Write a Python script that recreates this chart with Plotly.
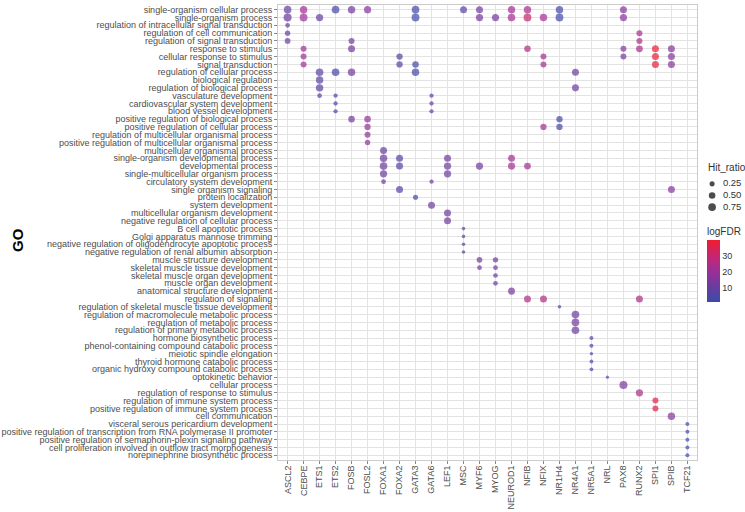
import plotly.graph_objects as go

tf_names = ["ASCL2", "CEBPE", "ETS1", "ETS2", "FOSB", "FOSL2", "FOXA1", "FOXA2",
            "GATA3", "GATA6", "LEF1", "MSC", "MYF6", "MYOG", "NEUROD1", "NFIB",
            "NFIX", "NR1H4", "NR4A1", "NR5A1", "NRL", "PAX8", "RUNX2", "SPI1",
            "SPIB", "TCF21"]

go_terms = [
    "single-organism cellular process",
    "single-organism process",
    "regulation of intracellular signal transduction",
    "regulation of cell communication",
    "regulation of signal transduction",
    "response to stimulus",
    "cellular response to stimulus",
    "signal transduction",
    "regulation of cellular process",
    "biological regulation",
    "regulation of biological process",
    "vasculature development",
    "cardiovascular system development",
    "blood vessel development",
    "positive regulation of biological process",
    "positive regulation of cellular process",
    "regulation of multicellular organismal process",
    "positive regulation of multicellular organismal process",
    "multicellular organismal process",
    "single-organism developmental process",
    "developmental process",
    "single-multicellular organism process",
    "circulatory system development",
    "single organism signaling",
    "protein localization",
    "system development",
    "multicellular organism development",
    "negative regulation of cellular process",
    "B cell apoptotic process",
    "Golgi apparatus mannose trimming",
    "negative regulation of oligodendrocyte apoptotic process",
    "negative regulation of renal albumin absorption",
    "muscle structure development",
    "skeletal muscle tissue development",
    "skeletal muscle organ development",
    "muscle organ development",
    "anatomical structure development",
    "regulation of signaling",
    "regulation of skeletal muscle tissue development",
    "regulation of macromolecule metabolic process",
    "regulation of metabolic process",
    "regulation of primary metabolic process",
    "hormone biosynthetic process",
    "phenol-containing compound catabolic process",
    "meiotic spindle elongation",
    "thyroid hormone catabolic process",
    "organic hydroxy compound catabolic process",
    "optokinetic behavior",
    "cellular process",
    "regulation of response to stimulus",
    "regulation of immune system process",
    "positive regulation of immune system process",
    "cell communication",
    "visceral serous pericardium development",
    "positive regulation of transcription from RNA polymerase II promoter",
    "positive regulation of semaphorin-plexin signaling pathway",
    "cell proliferation involved in outflow tract morphogenesis",
    "norepinephrine biosynthetic process",
]

# one entry per dot: TF, GO row number (1-based into go_terms), logFDR, Hit_ratio
dot_tf = (["ASCL2"] * 5 + ["CEBPE"] * 5 + ["ETS1"] * 5 + ["ETS2"] * 5 + ["FOSB"] * 5 +
          ["FOSL2"] * 5 + ["FOXA1"] * 5 + ["FOXA2"] * 5 + ["GATA3"] * 5 + ["GATA6"] * 5 +
          ["LEF1"] * 5 + ["MSC"] * 5 + ["MYF6"] * 5 + ["MYOG"] * 5 + ["NEUROD1"] * 5 +
          ["NFIB"] * 5 + ["NFIX"] * 5 + ["NR1H4"] * 5 + ["NR4A1"] * 5 + ["NR5A1"] * 5 +
          ["NRL"] * 1 + ["PAX8"] * 5 + ["RUNX2"] * 5 + ["SPI1"] * 5 + ["SPIB"] * 5 +
          ["TCF21"] * 5)

dot_go = [1, 2, 3, 4, 5,          # ASCL2
          1, 2, 6, 7, 8,          # CEBPE
          2, 9, 10, 11, 12,       # ETS1
          1, 9, 12, 13, 14,       # ETS2
          1, 5, 6, 9, 15,         # FOSB
          1, 15, 16, 17, 18,      # FOSL2
          19, 20, 21, 22, 23,     # FOXA1
          7, 8, 20, 21, 24,       # FOXA2
          1, 2, 8, 9, 25,         # GATA3
          12, 13, 14, 23, 26,     # GATA6
          20, 21, 22, 27, 28,     # LEF1
          1, 29, 30, 31, 32,      # MSC
          1, 2, 21, 33, 34,       # MYF6
          2, 33, 34, 35, 36,      # MYOG
          1, 2, 20, 21, 37,       # NEUROD1
          1, 2, 6, 21, 38,        # NFIB
          2, 7, 8, 16, 38,        # NFIX
          1, 2, 15, 16, 39,       # NR1H4
          9, 11, 40, 41, 42,      # NR4A1
          43, 44, 45, 46, 47,     # NR5A1
          48,                     # NRL
          1, 2, 6, 7, 49,         # PAX8
          4, 5, 6, 38, 50,        # RUNX2
          6, 7, 8, 51, 52,        # SPI1
          6, 7, 8, 24, 53,        # SPIB
          54, 55, 56, 57, 58]     # TCF21

dot_logfdr = [10, 11, 10, 10, 10,
              22, 21, 21, 21, 21,
              9, 8, 8, 8, 8,
              4, 4, 6, 6, 6,
              13, 13, 13, 13, 13,
              17, 19, 19, 19, 19,
              11, 11, 11, 11, 11,
              7, 7, 7, 7, 7,
              3, 3, 3, 3, 1.5,
              12, 12, 12, 12, 12,
              12, 12, 12, 12, 12,
              7, 7, 7, 7, 7,
              13, 13, 13, 13, 13,
              13, 13, 13, 13, 13,
              22, 22, 22, 22, 14,
              24, 30, 26, 22, 25,
              23, 22, 22, 22, 25,
              4, 4, 4, 4, 4,
              12, 12, 12, 12, 12,
              6, 6, 6, 6, 6,
              5,
              17, 17, 14, 14, 14,
              24, 24, 24, 24, 24,
              40, 38, 38, 36, 36,
              17, 17, 17, 17, 17,
              3, 3, 3, 3, 3]

dot_hit = [0.75, 0.85, 0.2, 0.3, 0.35,
           0.7, 0.8, 0.4, 0.4, 0.4,
           0.65, 0.75, 0.7, 0.7, 0.2,
           0.75, 0.75, 0.15, 0.15, 0.15,
           0.7, 0.4, 0.6, 0.7, 0.5,
           0.65, 0.5, 0.45, 0.4, 0.3,
           0.6, 0.7, 0.75, 0.65, 0.2,
           0.45, 0.45, 0.6, 0.6, 0.6,
           0.75, 0.8, 0.5, 0.7, 0.25,
           0.15, 0.15, 0.15, 0.15, 0.6,
           0.6, 0.65, 0.65, 0.6, 0.6,
           0.6, 0.08, 0.08, 0.08, 0.08,
           0.6, 0.65, 0.65, 0.35, 0.2,
           0.65, 0.3, 0.2, 0.2, 0.2,
           0.7, 0.75, 0.6, 0.65, 0.6,
           0.7, 0.8, 0.5, 0.55, 0.6,
           0.7, 0.4, 0.4, 0.45, 0.6,
           0.7, 0.8, 0.45, 0.45, 0.08,
           0.6, 0.6, 0.75, 0.75, 0.75,
           0.12, 0.12, 0.06, 0.1, 0.1,
           0.05,
           0.6, 0.65, 0.4, 0.4, 0.85,
           0.4, 0.4, 0.55, 0.6, 0.65,
           0.6, 0.6, 0.6, 0.4, 0.4,
           0.6, 0.6, 0.6, 0.6, 0.7,
           0.12, 0.12, 0.12, 0.12, 0.12]

size_legend_breaks = [0.25, 0.50, 0.75]
color_ticks = [10, 20, 30]


def hit_to_diameter(h):
    return 1.6 + 7.0 * h ** 0.5


colorscale = [[0.0, "#3A4BA8"], [0.25, "#6A3C9E"], [0.5, "#9B2F98"],
              [0.75, "#C8256E"], [1.0, "#EE1C30"]]

FONT = "Liberation Sans, Arial, sans-serif"
W, H = 745, 512
ML, MT, MB = 278, 5, 52
PW = W - ML          # plot area width (right margin 0)
PH = H - MT - MB     # plot area height
main_right = 419 / PW


def px_x(p):
    return (p - ML) / PW


def px_y(p):
    return (H - MB - p) / PH


fig = go.Figure()
fig.add_trace(go.Scatter(
    x=dot_tf,
    y=[go_terms[i - 1] for i in dot_go],
    mode="markers",
    showlegend=False,
    hoverinfo="skip",
    marker=dict(
        size=[hit_to_diameter(h) for h in dot_hit],
        sizemode="diameter",
        color=dot_logfdr,
        cmin=min(dot_logfdr), cmax=max(dot_logfdr),
        colorscale=colorscale,
        line=dict(width=0),
        colorbar=dict(
            title=dict(text="logFDR", side="top", font=dict(size=10, color="#333", family=FONT)),
            tickvals=color_ticks,
            ticks="", tickfont=dict(size=9, color="#333", family=FONT),
            thickness=13, thicknessmode="pixels",
            len=78, lenmode="pixels",
            x=px_x(707), xanchor="left", xpad=0,
            y=px_y(224), yanchor="top", ypad=0,
            outlinewidth=0,
        ),
    ),
))

# size legend (Hit_ratio) drawn in its own small axes at the right
fig.add_trace(go.Scatter(
    x=[0.30] * len(size_legend_breaks), y=list(range(len(size_legend_breaks))),
    xaxis="x2", yaxis="y2", mode="markers", showlegend=False, hoverinfo="skip",
    marker=dict(size=[hit_to_diameter(b) for b in size_legend_breaks], color="black",
                line=dict(width=0)),
))
fig.add_trace(go.Scatter(
    x=[0.53] * len(size_legend_breaks), y=list(range(len(size_legend_breaks))),
    xaxis="x2", yaxis="y2", mode="text", showlegend=False, hoverinfo="skip",
    text=[f"{b:.2f}" for b in size_legend_breaks], textposition="middle right",
    textfont=dict(size=9.5, color="#333", family=FONT),
))

fig.update_layout(
    width=W, height=H,
    margin=dict(l=ML, r=0, t=MT, b=MB, autoexpand=False),
    paper_bgcolor="white", plot_bgcolor="white",
    font=dict(family=FONT, color="#4D4D4D"),
    showlegend=False,
    annotations=[
        dict(text="<b>GO</b>", textangle=-90, x=px_x(18), y=px_y(240),
             xref="paper", yref="paper", showarrow=False,
             font=dict(size=15, color="black", family=FONT),
             xanchor="center", yanchor="middle"),
        dict(text="Hit_ratio", x=px_x(706), y=px_y(168),
             xref="paper", yref="paper", showarrow=False,
             font=dict(size=10, color="#333", family=FONT),
             xanchor="left", yanchor="middle"),
    ],
    xaxis=dict(
        domain=[0, main_right],
        type="category", categoryorder="array", categoryarray=tf_names,
        tickmode="array", tickvals=tf_names,
        range=[-0.6, len(tf_names) - 0.4],
        tickangle=-90, tickfont=dict(size=9, color="#4D4D4D"),
        showgrid=True, gridcolor="#E3E3E3", gridwidth=1,
        ticks="outside", ticklen=3, tickcolor="#888",
        ticklabelstandoff=-2,
        showline=True, linecolor="#CCCCCC", mirror=True,
        zeroline=False, automargin=False, fixedrange=True,
    ),
    yaxis=dict(
        type="category", categoryorder="array", categoryarray=go_terms,
        tickmode="array", tickvals=go_terms,
        range=[len(go_terms) - 0.4, -0.6],
        tickfont=dict(size=9, color="#4D4D4D"),
        showgrid=True, gridcolor="#E3E3E3", gridwidth=1,
        ticks="outside", ticklen=3, tickcolor="#888",
        showline=True, linecolor="#CCCCCC", mirror=True,
        zeroline=False, automargin=False, fixedrange=True,
    ),
    xaxis2=dict(domain=[px_x(698), 1.0], range=[0, 1], anchor="y2",
                visible=False, fixedrange=True),
    yaxis2=dict(domain=[px_y(213), px_y(178)], range=[2.5, -0.5], anchor="x2",
                visible=False, fixedrange=True),
)

fig.write_html("out.html",
               config={"displayModeBar": False, "staticPlot": True},
               post_script="document.body.style.margin='0';document.body.style.overflow='hidden';")
